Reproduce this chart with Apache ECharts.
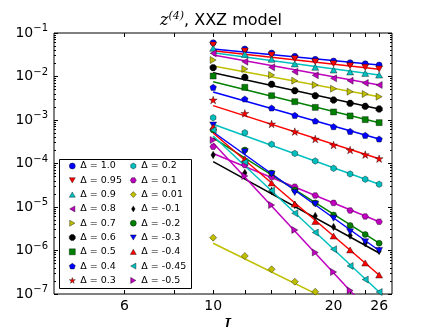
<!DOCTYPE html>
<html><head><meta charset="utf-8">
<script src="https://cdn.jsdelivr.net/npm/echarts@6/dist/echarts.min.js"></script>
<style>html,body{margin:0;padding:0;background:#fff}#c{width:436px;height:327px}</style>
</head><body><div id="c"></div><script>
// ---- data ----
const L = [10, 12, 14, 16, 18, 20, 22, 24, 26];
const deltaNames = ['1.0','0.95','0.9','0.8','0.7','0.6','0.5','0.4','0.3','0.2','0.1','0.01','-0.1','-0.2','-0.3','-0.4','-0.45','-0.5'];
const z_p100 = [0.0600, 0.0429, 0.0347, 0.0291, 0.0248, 0.0227, 0.0208, 0.0197, 0.0184];
const z_p095 = [0.0530, 0.0385, 0.0312, 0.0257, 0.0219, 0.0197, 0.0177, 0.0163, 0.0149];
const z_p090 = [0.0445, 0.0324, 0.0248, 0.0194, 0.0163, 0.0141, 0.0127, 0.0118, 0.0108];
const z_p080 = [0.0341, 0.0219, 0.0163, 0.0129, 0.01064, 0.00908, 0.00802, 0.00710, 0.00638];
const z_p070 = [0.0239, 0.0149, 0.0108, 0.00802, 0.00638, 0.00525, 0.00448, 0.00396, 0.00344];
const z_p060 = [0.01596, 0.00957, 0.00661, 0.00472, 0.00362, 0.00288, 0.00242, 0.00206, 0.00179];
const z_p050 = [0.01026, 0.00564, 0.00362, 0.00264, 0.00195, 0.00153, 0.00124, 0.00102, 0.000869];
const z_p040 = [0.00564, 0.00304, 0.00189, 0.00128, 0.000948, 0.000703, 0.000548, 0.000445, 0.000366];
const z_p030 = [0.00288, 0.00142, 0.000809, 0.000540, 0.000366, 0.000266, 0.000204, 0.000160, 0.000129];
const z_p020 = [0.00113, 0.000511, 0.000276, 0.000170, 0.000114, 7.76e-5, 5.74e-5, 4.34e-5, 3.33e-5];
const z_p010 = [2.43e-4, 9.25e-5, 4.90e-5, 2.93e-5, 1.84e-5, 1.24e-5, 8.32e-6, 6.05e-6, 4.59e-6];
const z_p001 = [1.97e-6, 7.48e-7, 3.70e-7, 1.92e-7, 1.13e-7, null, null, null, null];
const z_m010 = [1.57e-4, 6.05e-5, 2.33e-5, 1.11e-5, 6.21e-6, 3.47e-6, 2.21e-6, 1.47e-6, 9.75e-7];
const z_m020 = [5.89e-4, 2.04e-4, 6.05e-5, 2.46e-5, 1.24e-5, 6.55e-6, 3.76e-6, 2.33e-6, 1.47e-6];
const z_m030 = [7.67e-4, 1.87e-4, 5.74e-5, 2.15e-5, 1.17e-5, 5.50e-6, 2.70e-6, 1.59e-6, 1.00e-6];
const z_m040 = [6.90e-4, 1.27e-4, 3.56e-5, 1.17e-5, 4.65e-6, 2.15e-6, 1.03e-6, 5.16e-7, 2.74e-7];
const z_m045 = [5.89e-4, 1.08e-4, 2.39e-5, 7.16e-6, 2.59e-6, 1.07e-6, 4.41e-7, 2.15e-7, 1.11e-7];
const z_m050 = [3.47e-4, 5.16e-5, 1.11e-5, 2.96e-6, 8.99e-7, 3.21e-7, 1.20e-7, null, null];
// fitted power-law lines: values at L = 10 and L = 26
const fitL = [10, 26];
const fit_p100 = [0.0429, 0.0184];
const fit_p095 = [0.0393, 0.0146];
const fit_p090 = [0.0353, 0.0108];
const fit_p080 = [0.0312, 0.00638];
const fit_p070 = [0.0174, 0.00344];
const fit_p060 = [0.01225, 0.00179];
const fit_p050 = [0.0076, 0.000869];
const fit_p040 = [0.00441, 0.000366];
const fit_p030 = [0.00214, 0.000129];
const fit_p020 = [0.000796, 3.33e-5];
const fit_p010 = [1.70e-4, 4.59e-6];
const fit_p001 = [1.47e-6, 1.94e-8];
const fit_m010 = [1.10e-4, 8.77e-7];
const fit_m020 = [3.86e-4, 1.47e-6];
const fit_m030 = [5.30e-4, 1.00e-6];
const fit_m040 = [5.02e-4, 2.74e-7];
const fit_m045 = [4.29e-4, 1.11e-7];
const fit_m050 = [2.96e-4, 2.27e-8];
// ticks
const xTickValues = [6, 8, 10, 12, 14, 16, 18, 20, 22, 24, 26];
const xLabelValues = [6, 10, 20, 26];
const yMajorValues = [1e-7, 1e-6, 1e-5, 1e-4, 1e-3, 1e-2, 1e-1];
const yMinorMult = [2, 3, 4, 5, 6, 7, 8, 9];

const allVals = [z_p100,z_p095,z_p090,z_p080,z_p070,z_p060,z_p050,z_p040,z_p030,z_p020,z_p010,z_p001,z_m010,z_m020,z_m030,z_m040,z_m045,z_m050];
const allFits = [fit_p100,fit_p095,fit_p090,fit_p080,fit_p070,fit_p060,fit_p050,fit_p040,fit_p030,fit_p020,fit_p010,fit_p001,fit_m010,fit_m020,fit_m030,fit_m040,fit_m045,fit_m050];

// ---- styles ----
const C = {b:'#0000ff', r:'#ff0000', c:'#00bfbf', m:'#bf00bf', y:'#bfbf00', k:'#000000', g:'#008000'};
const colorCycle = ['b','r','c','m','y','k','g'];
const S = {
  o: ['circle', 6],
  v: ['path://M0,0L2,0L1,1.732Z', 7],
  '^': ['path://M1,0L2,1.732L0,1.732Z', 7],
  '<': ['path://M0,1L1.732,0L1.732,2Z', 7],
  '>': ['path://M0,0L1.732,1L0,2Z', 7],
  '8': ['path://M1.924,0.617L1.383,0.076L0.617,0.076L0.076,0.617L0.076,1.383L0.617,1.924L1.383,1.924L1.924,1.383Z', 6.5],
  s: ['rect', 6],
  p: ['path://M1,0L0.049,0.691L0.412,1.809L1.588,1.809L1.951,0.691Z', 6.5],
  '*': ['path://M1,0L0.7755,0.691L0.049,0.691L0.6367,1.118L0.412,1.809L1,1.382L1.588,1.809L1.3633,1.118L1.951,0.691L1.2245,0.691Z', 8],
  h: ['path://M1,0L0.134,0.5L0.134,1.5L1,2L1.866,1.5L1.866,0.5Z', 6.5],
  H: ['path://M2,1L1.5,0.134L0.5,0.134L0,1L0.5,1.866L1.5,1.866Z', 6.5],
  D: ['diamond', 7],
  d: ['path://M0.3,0L0.6,0.5L0.3,1L0,0.5Z', 7.5]
};
const markerCycle = ['o','v','^','<','>','8','s','p','*','h','H','D','d'];

const series = [];
const legendNames = [];
deltaNames.forEach((dn, i) => {
  const col = C[colorCycle[i % 7]];
  const mk = S[markerCycle[i % 13]];
  const name = '\u0394 = ' + dn;
  legendNames.push(name);
  series.push({
    type: 'line', name: 'fit' + i, silent: true, clip: true, z: 2,
    data: fitL.map((x, j) => [x, allFits[i][j]]),
    showSymbol: false, symbol: 'none',
    lineStyle: {color: col, width: 1.5}
  });
  series.push({
    type: 'scatter', name: name, clip: true, z: 3 + i * 0.01,
    data: L.map((x, j) => [x, allVals[i][j]]).filter(p => p[1] != null),
    symbol: mk[0], symbolSize: mk[1], symbolKeepAspect: true,
    itemStyle: {color: col, borderColor: 'rgba(0,0,0,0.65)', borderWidth: 0.6, opacity: 1}
  });
});

const yMinorValues = [];
for (let e = -7; e < -1; e++) yMinorMult.forEach(m => yMinorValues.push(m * Math.pow(10, e)));

const FONT = 'DejaVu Sans';
const baseAxis = {type: 'log', logBase: 10, splitLine: {show: false}, axisLine: {show: false}};

const option = {
  animation: false,
  backgroundColor: '#fff',
  grid: {left: 54, right: 44, top: 33, bottom: 33, show: true, borderColor: '#000', borderWidth: 1, backgroundColor: 'transparent', outerBoundsMode: 'none', containLabel: false},
  xAxis: [
    Object.assign({}, baseAxis, {
      position: 'bottom', min: 4, max: 28,
      axisTick: {show: true, inside: true, length: 4, lineStyle: {color: '#000'}, customValues: xTickValues},
      axisLabel: {show: true, customValues: xLabelValues, margin: 5, color: '#000', fontSize: 14, fontFamily: FONT, formatter: v => String(Math.round(v))},
      name: 'L', nameLocation: 'middle', nameGap: 14,
      nameTextStyle: {fontFamily: 'DejaVu Serif', fontStyle: 'italic', fontSize: 20, color: '#000', padding: [0, 0, 0, 14]}
    }),
    Object.assign({}, baseAxis, {
      position: 'top', min: 4, max: 28,
      axisTick: {show: true, inside: true, length: 4, lineStyle: {color: '#000'}, customValues: xTickValues},
      axisLabel: {show: false}
    })
  ],
  yAxis: [
    Object.assign({}, baseAxis, {
      position: 'left', min: 1e-7, max: 1e-1,
      axisTick: {show: true, inside: true, length: 4, lineStyle: {color: '#000'}, customValues: yMajorValues},
      axisLabel: {show: true, customValues: yMajorValues, margin: 6, color: '#000',
        formatter: v => '{a|10}{b|\u2212' + Math.abs(Math.round(Math.log10(v))) + '}',
        rich: {a: {fontSize: 14, fontFamily: FONT, color: '#000'}, b: {fontSize: 10, fontFamily: FONT, color: '#000', padding: [0, 0, 9, 0]}}}
    }),
    Object.assign({}, baseAxis, {
      position: 'left', min: 1e-7, max: 1e-1,
      axisTick: {show: true, inside: true, length: 2, lineStyle: {color: '#000'}, customValues: yMinorValues},
      axisLabel: {show: false}
    }),
    Object.assign({}, baseAxis, {
      position: 'right', min: 1e-7, max: 1e-1,
      axisTick: {show: true, inside: true, length: 4, lineStyle: {color: '#000'}, customValues: yMajorValues},
      axisLabel: {show: false}
    }),
    Object.assign({}, baseAxis, {
      position: 'right', min: 1e-7, max: 1e-1,
      axisTick: {show: true, inside: true, length: 2, lineStyle: {color: '#000'}, customValues: yMinorValues},
      axisLabel: {show: false}
    })
  ],
  legend: [
    {data: legendNames.slice(0, 9), orient: 'vertical', left: 69, top: 161, padding: 0, itemWidth: 6, itemHeight: 6, itemGap: 4.3, itemStyle: {borderWidth: 0.6}, textStyle: {fontSize: 9.5, fontFamily: FONT, color: '#000'}, selectedMode: false, z: 20},
    {data: legendNames.slice(9), orient: 'vertical', left: 130, top: 161, padding: 0, itemWidth: 6, itemHeight: 6, itemGap: 4.3, itemStyle: {borderWidth: 0.6}, textStyle: {fontSize: 9.5, fontFamily: FONT, color: '#000'}, selectedMode: false, z: 20}
  ],
  graphic: [
    {type: 'rect', z: 10, shape: {x: 59.5, y: 159.5, width: 132, height: 129}, style: {fill: '#fff', stroke: '#000', lineWidth: 1}},
    {type: 'text', z: 10, x: 221, y: 21, style: {
      text: '{i|z}{s|(4)}{n|, XXZ model}', align: 'center', verticalAlign: 'middle',
      rich: {
        i: {fontFamily: 'DejaVu Serif', fontStyle: 'italic', fontSize: 16, fill: '#000'},
        s: {fontFamily: 'DejaVu Serif', fontStyle: 'italic', fontSize: 11, fill: '#000', padding: [0, 0, 9, 0]},
        n: {fontFamily: FONT, fontSize: 16, fill: '#000'}
      }}}
  ],
  series: series
};
const chart = echarts.init(document.getElementById('c'), null, {renderer: 'canvas'});
chart.setOption(option);
</script></body></html>
